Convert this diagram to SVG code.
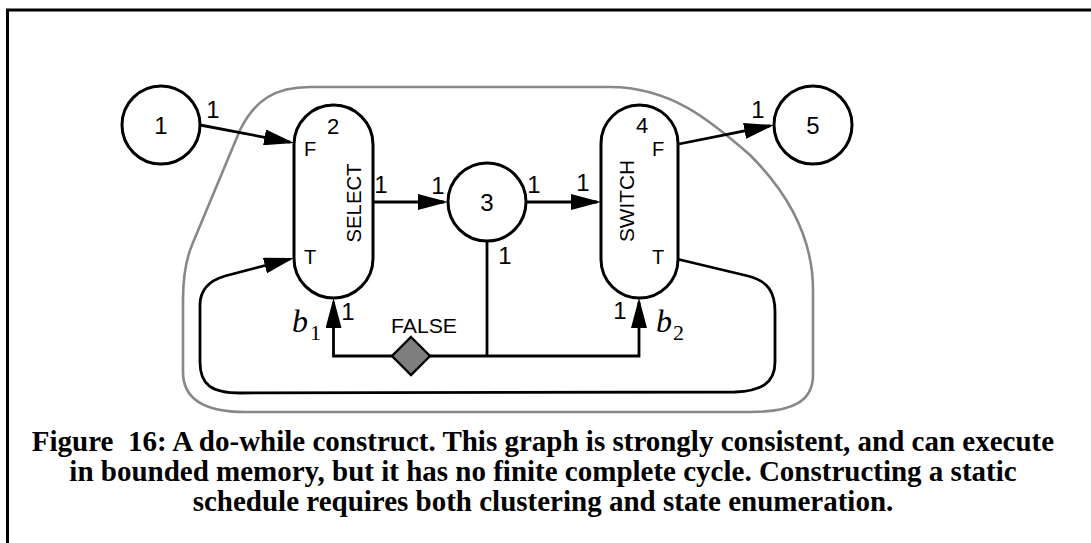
<svg xmlns="http://www.w3.org/2000/svg" width="1091" height="543" viewBox="0 0 1091 543">
  <style>
    .node { fill: #ffffff; stroke: #000000; stroke-width: 3; }
    .edge { fill: none; stroke: #000000; stroke-width: 2.8; }
    .cluster { fill: none; stroke: #888888; stroke-width: 2.6; }
    .frame { stroke: #000000; stroke-width: 3; fill: none; }
    .lbl { font-family: "Liberation Sans", Arial, sans-serif; fill: #000000; }
    .num { font-size: 24px; text-anchor: middle; }
    .port { font-size: 20px; }
    .id { font-size: 22px; text-anchor: middle; }
    .name { font-size: 21px; text-anchor: middle; }
    .var { font-family: "Liberation Serif", "Times New Roman", serif; font-style: italic; font-size: 32px; }
    .sub { font-family: "Liberation Serif", "Times New Roman", serif; font-size: 22px; }
    .caption { font-family: "Liberation Serif", "Times New Roman", serif; font-weight: bold; font-size: 29px; text-anchor: middle; white-space: pre; }
  </style>
  <defs>
    <marker id="arrow" markerUnits="userSpaceOnUse" markerWidth="30" markerHeight="16" refX="26" refY="8" orient="auto">
      <path d="M0,0 L30,8 L0,16 Z" fill="#000000"/>
    </marker>
  </defs>

  <rect width="1091" height="543" fill="#ffffff"/>

  <!-- page frame: top and left rules -->
  <path class="frame" d="M7.5,543 L7.5,10 L1091,10"/>

  <!-- cluster boundary around the loop body -->
  <path class="cluster" d="M310,87 L610,87 C670,87 710,120 750,155 C790,195 813,240 813,290 L813,375 C813,400 795,412 750,412 L245,412 C205,412 183,400 183,372 L183,300 C183,280 185,262 192,245 L240,130 C255,100 275,87 310,87 Z"/>

  <!-- connectors -->
  <g id="connectors">
    <path class="edge" d="M200,125 L290.1,142.2" marker-end="url(#arrow)"/>
    <path class="edge" d="M373,202 L444,202" marker-end="url(#arrow)"/>
    <path class="edge" d="M526,202 L597,202" marker-end="url(#arrow)"/>
    <path class="edge" d="M679,144 L770.1,125.8" marker-end="url(#arrow)"/>
    <!-- control token from node 3 to both control inputs -->
    <path class="edge" d="M487,241 L487,356"/>
    <path class="edge" d="M487,356 L639,356 L639,302" marker-end="url(#arrow)"/>
    <path class="edge" d="M487,356 L430,356"/>
    <path class="edge" d="M392,356 L333.5,356 L333.5,302" marker-end="url(#arrow)"/>
    <!-- feedback from SWITCH T output to SELECT T input -->
    <path class="edge" d="M677,259 L748,276 C768,281 775,292 775,312 L775,362 C775,384 760,391 735,392 L240,393 C212,393 200,385 200,362 L200,305 C200,290 208,281 225,276 L290.1,259" marker-end="url(#arrow)"/>
  </g>

  <!-- initial token on the control arc -->
  <g id="delay">
    <path d="M411,337 L430,356 L411,375 L392,356 Z" fill="#7f7f7f" stroke="#000000" stroke-width="2.4"/>
    <text class="lbl" x="424" y="333" font-size="21" text-anchor="middle" textLength="66" lengthAdjust="spacingAndGlyphs">FALSE</text>
  </g>

  <g id="n1">
    <circle class="node" cx="161" cy="125" r="39"/>
    <text class="lbl num" x="161" y="134">1</text>
  </g>

  <g id="n2">
    <rect class="node" x="294" y="105" width="79" height="193" rx="39.5" ry="39.5"/>
    <text class="lbl id" x="333" y="134">2</text>
    <text class="lbl port" x="304" y="156">F</text>
    <text class="lbl port" x="304" y="264">T</text>
    <text class="lbl name" transform="translate(353,203) rotate(-90)" x="0" y="7.5" textLength="79" lengthAdjust="spacingAndGlyphs">SELECT</text>
  </g>

  <g id="n3">
    <circle class="node" cx="487" cy="202" r="39"/>
    <text class="lbl num" x="487" y="211">3</text>
  </g>

  <g id="n4">
    <rect class="node" x="601" y="105" width="77" height="193" rx="38.5" ry="38.5"/>
    <text class="lbl id" x="642" y="133">4</text>
    <text class="lbl port" x="652" y="156">F</text>
    <text class="lbl port" x="652" y="264">T</text>
    <text class="lbl name" transform="translate(626.5,201) rotate(-90)" x="0" y="7.5" textLength="82" lengthAdjust="spacingAndGlyphs">SWITCH</text>
  </g>

  <g id="n5">
    <circle class="node" cx="813" cy="125" r="39"/>
    <text class="lbl num" x="813" y="134">5</text>
  </g>

  <!-- token rates -->
  <g id="rates">
    <text class="lbl num" x="213" y="118">1</text>
    <text class="lbl num" x="381" y="193">1</text>
    <text class="lbl num" x="438" y="194">1</text>
    <text class="lbl num" x="534" y="193">1</text>
    <text class="lbl num" x="583" y="191">1</text>
    <text class="lbl num" x="758" y="118">1</text>
    <text class="lbl num" x="505" y="264">1</text>
    <text class="lbl num" x="348" y="320">1</text>
    <text class="lbl num" x="620" y="319">1</text>
  </g>

  <!-- control variable names -->
  <g id="vars">
    <text class="var" x="292" y="332">b</text>
    <text class="sub" x="310" y="340">1</text>
    <text class="var" x="656" y="332">b</text>
    <text class="sub" x="673" y="340">2</text>
  </g>

  <g id="caption">
    <text class="caption" x="543" y="451">Figure  16: A do-while construct. This graph is strongly consistent, and can execute</text>
    <text class="caption" x="543" y="481">in bounded memory, but it has no finite complete cycle. Constructing a static</text>
    <text class="caption" x="543" y="511">schedule requires both clustering and state enumeration.</text>
  </g>
</svg>
